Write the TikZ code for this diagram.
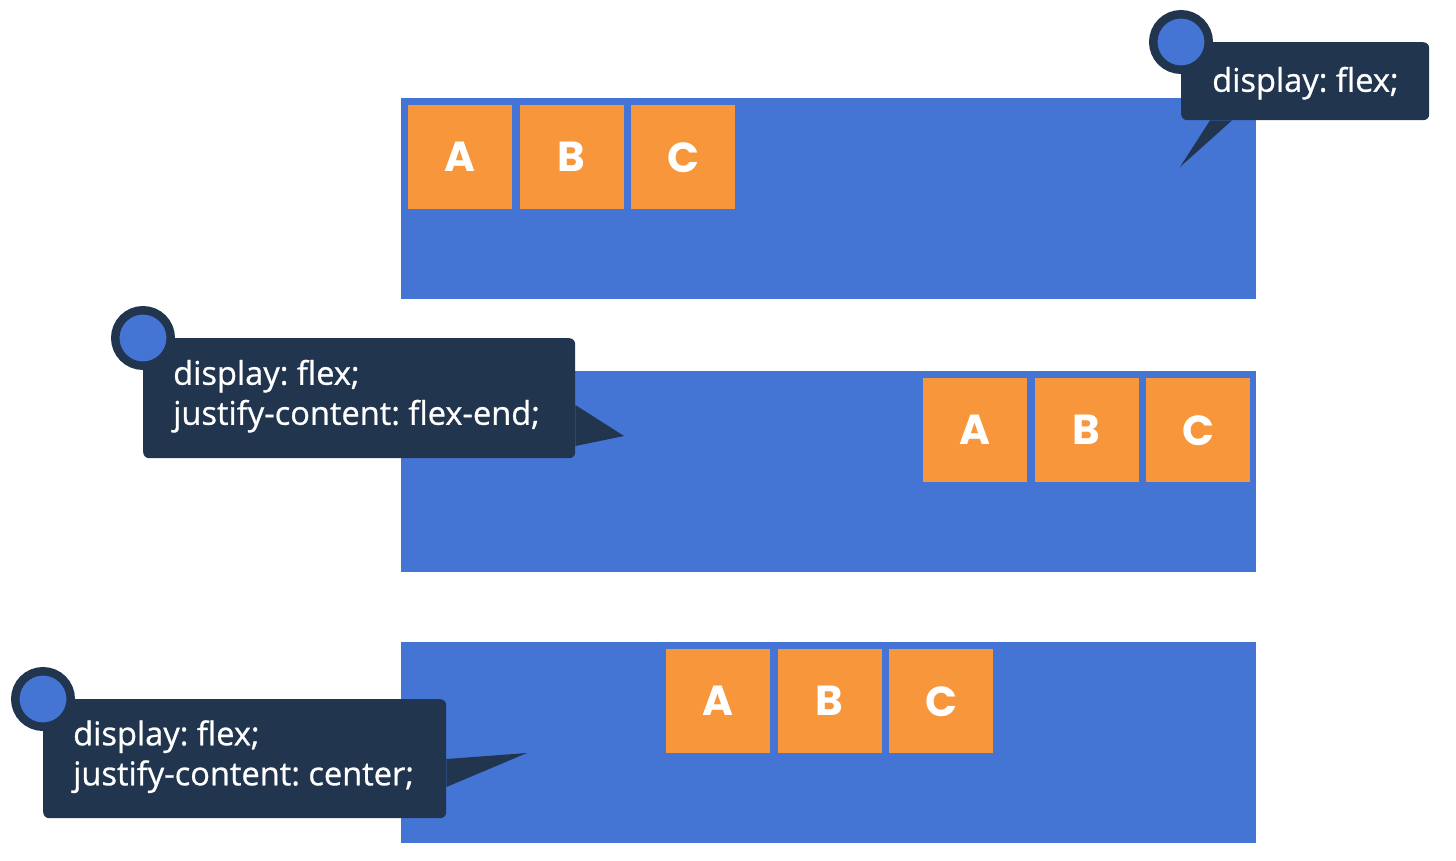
\documentclass[tikz,border=0pt]{standalone}
\usepackage{fontspec}
\setmainfont{Open Sans}
\newfontfamily\notefont[FakeBold=0.8]{Open Sans}
\newfontfamily\boxfont{Poppins}
\usetikzlibrary{positioning}
\frenchspacing

\definecolor{flexblue}{HTML}{4575D4}
\definecolor{itemorange}{HTML}{F7963B}
\definecolor{notenavy}{HTML}{21354F}

\tikzset{
    container/.style={fill=flexblue, inner sep=0, minimum width=855, minimum height=201, anchor=north west},
    item/.style={fill=itemorange, inner sep=0, minimum size=104, text=white, font=\boxfont\bfseries\fontsize{42}{42}\selectfont},
    note/.style={fill=notenavy, rounded corners=6, inner sep=0, anchor=north west},
    notetext/.style={inner sep=0, text=white, align=left, anchor=west, font=\notefont\fontsize{32.6}{40}\selectfont},
    pin/.style={draw=notenavy, line width=8.5, fill=flexblue, circle, inner sep=0, minimum size=55.5}
}

\begin{document}
\begin{tikzpicture}[x=1pt, y=-1pt]
    \useasboundingbox[fill=white] (0,0) rectangle (1456,861);

    % the three flex containers
    \node[container] (row1) at (401,98) {};
    \node[container] (row2) at (401,371) {};
    \node[container] (row3) at (401,642) {};

    % display: flex
    \node[item, anchor=north west] (a1) at (408,105) {A};
    \node[item, right=7 of a1] (b1) {B};
    \node[item, right=7 of b1] (c1) {C};

    % justify-content: flex-end
    \node[item, anchor=north west] (a2) at (923,378) {A};
    \node[item, right=7 of a2] (b2) {B};
    \node[item, right=7 of b2] (c2) {C};

    % justify-content: center
    \node[item, anchor=north west] (a3) at (666,649) {A};
    \node[item, right=7 of a3] (b3) {B};
    \node[item, right=7 of b3] (c3) {C};

    % callouts
    \node[note, minimum width=248, minimum height=78] (note1) at (1181,42) {};
    \coordinate (tip1) at (1180,167);
    \fill[notenavy] ([xshift=29]note1.south west) -- (tip1) -- ([xshift=51]note1.south west) -- cycle;
    \node[pin] (pin1) at (note1.north west) {};
    \node[notetext] (text1) at ([xshift=31,yshift=-2]note1.west) {display: flex;};

    \node[note, minimum width=432, minimum height=120] (note2) at (143,338) {};
    \coordinate (tip2) at (624,436);
    \fill[notenavy] ([yshift=-67]note2.north east) -- (tip2) -- ([yshift=-108]note2.north east) -- cycle;
    \node[pin] (pin2) at (note2.north west) {};
    \node[notetext] (text2) at ([xshift=30,yshift=2]note2.west) {display: flex;\\justify-content: flex-end;};

    \node[note, minimum width=403, minimum height=119] (note3) at (43,699) {};
    \coordinate (tip3) at (527,753);
    \fill[notenavy] ([yshift=-60]note3.north east) -- (tip3) -- ([yshift=-88]note3.north east) -- cycle;
    \node[pin] (pin3) at (note3.north west) {};
    \node[notetext] (text3) at ([xshift=30,yshift=2]note3.west) {display: flex;\\justify-content: center;};
\end{tikzpicture}
\end{document}
